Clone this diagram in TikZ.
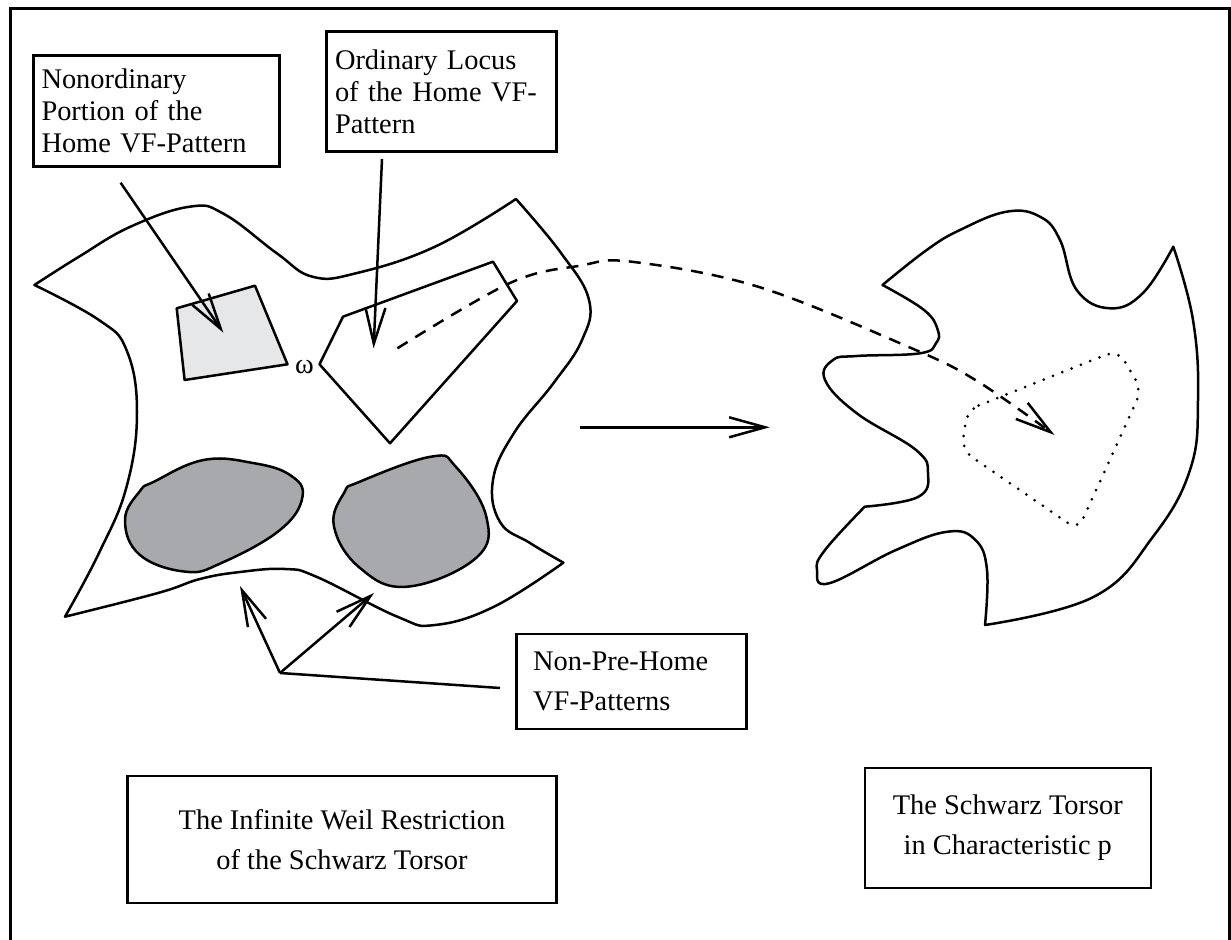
\documentclass[tikz,border=0pt]{standalone}
\usepackage{fontspec}
\setmainfont{Liberation Serif}
\usetikzlibrary{arrows.meta}
\definecolor{ltgray}{HTML}{E6E7E8}
\definecolor{dkgray}{HTML}{A7A9AC}

\begin{document}
\begin{tikzpicture}[x=0.5pt, y=-0.5pt,
    lbl box/.style = {draw, line width=1.3pt, inner sep=4pt, align=left, font=\fontsize{14.2}{16}\selectfont},
    title box/.style = {draw, line width=1.3pt, align=center, font=\fontsize{14.2}{20}\selectfont},
    outline/.style = {line width=1.25pt, line join=round},
    barb/.style = {line width=1.25pt, -{Straight Barb[length=18pt, width=10pt]}}]
    \useasboundingbox (0,0) rectangle (1231,940);
    \draw[line width=1.5pt] (10,945) -- (10,8.5) -- (1229,8.5) -- (1229,945);

    \node[lbl box, minimum width=123pt, minimum height=55.5pt, text width=115pt] (nonord) at (156.5,111.2) {Nonordinary \\ Portion of the \\ Home VF-Pattern};
    \node[lbl box, minimum width=115pt, minimum height=60pt, text width=106.6pt] (ord) at (441.6,91.7) {Ordinary Locus \\ of the Home VF- \\ Pattern};
    \node[lbl box, inner xsep=8.25pt, minimum width=115pt, minimum height=47.5pt, text width=98.5pt, font=\fontsize{14.2}{20}\selectfont] (nonpre) at (631.7,681.5) {Non-Pre-Home \\ VF-Patterns};
    \node[title box, minimum width=214.3pt, minimum height=63.5pt] (weil) at (342,839.5) {The Infinite Weil Restriction \\ of the Schwarz Torsor};
    \node[title box, minimum width=143pt, minimum height=60pt] (schwarz) at (1007.8,828) {The Schwarz Torsor \\ in Characteristic p};

    \begin{scope}
        \draw[outline] (34.4,285)
            -- plot[smooth, tension=0.7] coordinates {(34.4,285) (79,256.7) (130.5,226.7) (189.8,206.7) (224,214) (276.8,253.3) (312.4,276.7) (355.9,273.3) (435,246.7) (516,199)}
            -- plot[smooth, tension=0.7] coordinates {(516,199) (561,253) (589,300) (582,340) (553.6,383) (514,433) (493,480) (500,522) (530,543) (563.4,562.7)}
            -- plot[smooth, tension=0.7] coordinates {(563.4,562.7) (494,606.7) (435,625) (398,617) (317,577) (285,569) (240,572) (200,579) (158,593) (65,616.7)}
            -- plot[smooth, tension=0.7] coordinates {(65,616.7) (99,553) (126.5,487) (137,412) (126.5,350) (98.9,320) (34.4,285)}
            -- cycle;
        \draw[outline, fill=ltgray] (176.7,308.3) -- (255,285.7) -- (287.5,364.3) -- (184.6,380) -- cycle;
        \draw[outline, fill=white] (343,316.7) -- (493,261.7) -- (517,301) -- (390,443.3) -- (319.5,364.3) -- cycle;
        \node[font=\fontsize{14.2}{16}\selectfont] (omega) at (304.5,366.7) {ω};
        \draw[outline, fill=dkgray] plot[smooth cycle, tension=0.7] coordinates {(154,481.7) (203.6,460) (253,463) (290,475) (302.5,496.7) (280,530) (221.4,563) (185.8,571.7) (140,555) (125,520) (140,491)};
        \draw[outline, fill=dkgray] plot[smooth cycle, tension=0.7] coordinates {(359.8,481.7) (431,456.7) (456,467) (486.3,516.7) (476,558) (407.3,586.7) (360,568) (334,526.7) (344,493)};
    \end{scope}

    \begin{scope}
        \draw[outline] (882.5,285)
            -- plot[smooth, tension=0.7] coordinates {(882.5,285) (926.7,250) (960,230) (1006.7,211.7) (1040,216.7) (1060,240) (1076.7,290) (1110,308.3) (1143,293) (1173.3,246.7)}
            -- plot[smooth, tension=0.7] coordinates {(1173.3,246.7) (1193,320) (1198,400) (1190,470) (1153,536.7) (1094,596.7) (985,625)}
            -- plot[smooth, tension=0.7] coordinates {(985,625) (987,570) (975.4,540) (947.7,531.7) (896,550) (829,583.3) (817,570) (825,550) (864.7,506.7)}
            -- plot[smooth, tension=0.7] coordinates {(864.7,506.7) (918,497) (928,473.3) (916,450) (856.8,413.3) (825,380) (833,360) (856.8,356) (920,353.3) (935.9,343.3) (937.8,330) (924,310) (882.5,285)}
            -- cycle;
        \draw[line width=1.5pt, line cap=round, dash pattern=on 0pt off 5pt, rounded corners=6pt] (967.5,410) -- (1118,350) -- (1141.5,390) -- (1078,530) -- (961.6,450) -- cycle;
    \end{scope}

    \coordinate (nonord start) at (120.6,182.7);
    \coordinate (nonord tip) at (223.4,332.7);
    \coordinate (ord start) at (382,159);
    \coordinate (ord tip) at (373.6,348.3);
    \coordinate (nonpre start) at (500,688);
    \coordinate (fork) at (280,673);
    \coordinate (blob tip 1) at (240,586);
    \coordinate (blob tip 2) at (374,593);
    \coordinate (map start) at (580,427.3);
    \coordinate (map end) at (769.8,427.3);
    \coordinate (dash start) at (397.4,348.3);
    \coordinate (dash end) at (1054.5,435);

    \draw[barb] (nonord start) -- (nonord tip);
    \draw[barb] (ord start) -- (ord tip);
    \draw[line width=1.25pt] (nonpre start) -- (fork);
    \draw[barb] (fork) -- (blob tip 1);
    \draw[barb] (fork) -- (blob tip 2);
    \draw[barb] (map start) -- (map end);
    \draw[barb, dash pattern=on 6pt off 4.5pt] plot[smooth, tension=0.6] coordinates {(dash start) (510,283) (580,265.7) (631.4,261.7) (758,286.7) (908,346.7) (975.4,380) (dash end)};
\end{tikzpicture}
\end{document}
